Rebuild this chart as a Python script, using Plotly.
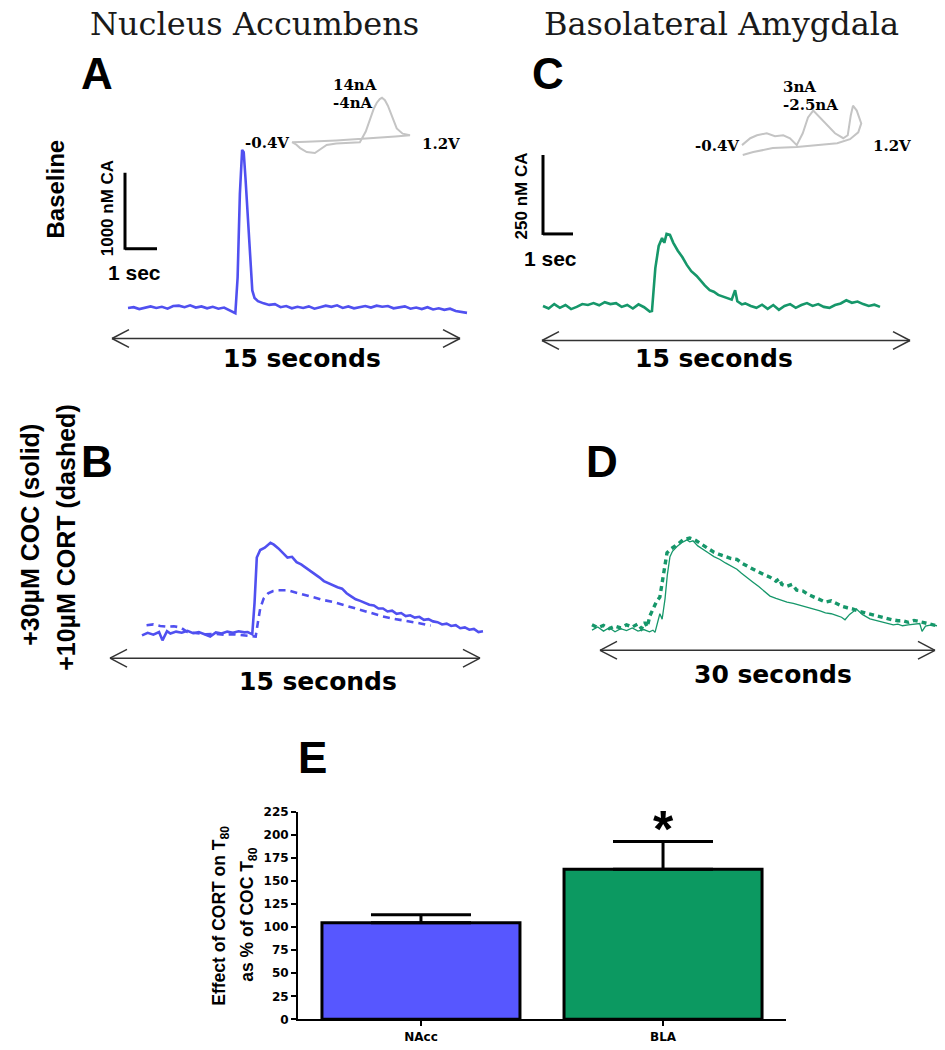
import plotly.graph_objects as go

W, H = 945, 1050

# ---------------- data ----------------
# Panel A: NAcc baseline release (time s, catecholamine nM)
nacc_base = [(0.0, 0), (0.25, 10), (0.5, -15), (0.75, 5), (1.0, 20), (1.25, 0), (1.5, 15), (1.75, -10),
             (2.0, 25), (2.25, 30), (2.5, 10), (2.75, 35), (3.0, 5), (3.25, 20), (3.5, -5), (3.75, 15),
             (4.0, -10), (4.25, 5), (4.5, -30), (4.75, -70), (4.85, 400), (4.95, 1500), (5.05, 2080),
             (5.12, 2050), (5.2, 1700), (5.3, 1150), (5.4, 600), (5.5, 230), (5.6, 130), (5.75, 90),
             (6.0, 60), (6.25, 40), (6.5, 50), (6.75, 10), (7.0, 25), (7.25, -5), (7.5, 15), (7.75, 0),
             (8.0, 20), (8.25, -10), (8.5, 10), (8.75, 30), (9.0, 15), (9.25, 35), (9.5, 0), (9.75, 20),
             (10.0, -5), (10.25, 10), (10.5, 25), (10.75, 5), (11.0, 30), (11.25, 15), (11.5, 25),
             (11.75, -5), (12.0, 10), (12.25, 20), (12.5, -10), (12.75, 5), (13.0, -15), (13.25, 10),
             (13.5, -20), (13.75, -5), (14.0, -25), (14.25, -10), (14.5, -40), (14.75, -55), (15.0, -65)]

# Panel C: BLA baseline release
bla_base = [(0.0, 0), (0.25, -8), (0.5, 6), (0.75, -6), (1.0, 3), (1.25, -10), (1.5, -3), (1.75, 6),
            (2.0, 3), (2.25, 9), (2.5, 2), (2.75, 12), (3.0, 6), (3.25, 9), (3.5, -3), (3.75, 3),
            (4.0, -8), (4.25, 5), (4.5, -4), (4.75, -18), (4.85, -16), (5.0, 120), (5.15, 190),
            (5.3, 215), (5.4, 200), (5.5, 228), (5.65, 225), (5.8, 200), (6.0, 175), (6.2, 155),
            (6.4, 130), (6.6, 110), (6.84, 95), (7.0, 80), (7.2, 65), (7.42, 50), (7.6, 45), (7.8, 35),
            (8.0, 30), (8.2, 25), (8.4, 20), (8.55, 50), (8.65, 15), (8.85, 5), (9.0, 8), (9.25, 0),
            (9.5, -6), (9.75, 4), (10.0, -9), (10.25, 3), (10.5, -12), (10.75, 0), (11.0, 6),
            (11.25, -6), (11.5, 3), (11.75, 9), (12.0, 0), (12.25, 6), (12.5, -3), (12.75, -6),
            (13.0, 3), (13.25, 8), (13.5, 18), (13.75, 10), (14.0, 14), (14.25, 6), (14.5, 0),
            (14.75, 4), (15.0, -3)]

# Panel B: NAcc +30uM cocaine (solid) and +10uM CORT (dashed)
nacc_coc = [(0.0, -25), (0.25, 10), (0.5, -15), (0.75, 20), (0.9, -90), (1.1, 30), (1.25, 0), (1.5, 25),
            (1.75, 10), (2.0, 35), (2.25, 5), (2.5, 20), (2.75, -10), (3.0, -40), (3.25, 15), (3.5, 0),
            (3.75, 25), (4.0, 10), (4.25, 30), (4.5, 15), (4.65, 20), (4.85, -10), (4.95, 400),
            (5.05, 1000), (5.2, 1100), (5.4, 1130), (5.65, 1195), (5.8, 1170), (6.0, 1120), (6.2, 1060),
            (6.4, 1000), (6.6, 1010), (6.8, 940), (7.0, 910), (7.2, 870), (7.4, 820), (7.6, 790),
            (7.8, 740), (8.0, 690), (8.2, 660), (8.4, 640), (8.6, 610), (8.8, 590), (9.0, 530),
            (9.2, 490), (9.4, 450), (9.6, 430), (9.8, 400), (10.0, 380), (10.2, 370), (10.4, 330),
            (10.6, 330), (10.8, 290), (11.0, 300), (11.2, 260), (11.4, 270), (11.6, 230), (11.8, 240),
            (12.0, 210), (12.2, 220), (12.4, 180), (12.6, 190), (12.8, 160), (13.0, 150), (13.2, 120),
            (13.4, 130), (13.6, 100), (13.8, 110), (14.0, 70), (14.2, 80), (14.4, 50), (14.6, 60),
            (14.8, 20), (15.0, 30)]
nacc_cort = [(0.2, 110), (0.5, 120), (0.8, 100), (1.1, 90), (1.4, 95), (1.7, 80), (2.0, 20), (2.4, 0),
             (2.8, -10), (3.2, -5), (3.6, -15), (4.0, -10), (4.4, -20), (4.8, -30), (5.0, -40),
             (5.1, 150), (5.2, 330), (5.35, 460), (5.55, 530), (5.77, 560), (6.0, 570), (6.39, 570),
             (6.7, 545), (6.96, 520), (7.3, 490), (7.7, 455), (8.0, 440), (8.41, 415), (8.8, 380),
             (9.3, 340), (9.7, 300), (10.18, 260), (10.6, 225), (11.06, 195), (11.5, 175),
             (11.94, 155), (12.3, 130), (12.7, 105)]

# Panel D: BLA +30uM cocaine (solid) and +10uM CORT (dashed), 30 s window
bla_coc = [(0.0, -5), (0.5, 5), (1.0, -8), (1.5, 3), (2.0, -10), (2.5, 0), (3.0, -6), (3.5, 2),
           (4.0, -8), (4.5, -3), (5.0, -10), (5.3, -5), (5.48, -12), (5.7, 20), (5.9, 47), (6.1, 30),
           (6.35, 94), (6.55, 170), (6.78, 228), (7.0, 245), (7.39, 260), (7.8, 272), (8.26, 281),
           (8.5, 275), (8.78, 278), (9.2, 262), (9.65, 250), (10.1, 240), (10.6, 228), (11.13, 219),
           (11.6, 208), (12.1, 197), (12.6, 188), (13.0, 175), (13.5, 162), (14.0, 147), (14.5, 133),
           (15.0, 118), (15.48, 103), (16.0, 96), (16.5, 90), (16.96, 84), (17.5, 80), (18.0, 75),
           (18.35, 72), (19.0, 65), (19.5, 60), (19.83, 56), (20.3, 50), (20.8, 47), (21.3, 41),
           (21.7, 36), (22.0, 28), (22.4, 45), (23.0, 62), (23.5, 45), (24.17, 31), (24.8, 25),
           (25.3, 20), (25.65, 16), (26.2, 12), (26.6, 14), (27.0, 9), (27.5, 12), (28.0, 15),
           (28.5, 16), (28.7, -9), (29.0, 8), (29.5, 12), (30.0, 9)]
bla_cort = [(0.0, 12), (0.5, 3), (1.0, 10), (1.5, 0), (2.0, 8), (2.5, 2), (3.0, 12), (3.5, 5),
            (4.0, 15), (4.3, 0), (4.6, 20), (4.8, 5), (5.04, 41), (5.3, 60), (5.6, 85), (5.9, 100),
            (6.2, 170), (6.52, 240), (6.85, 252), (7.2, 260), (7.55, 270), (7.9, 281), (8.2, 285),
            (8.5, 287), (8.9, 282), (9.3, 272), (9.65, 265), (10.1, 252), (10.6, 242), (11.13, 234),
            (11.6, 228), (12.1, 222), (12.6, 219), (13.0, 208), (13.5, 198), (14.0, 188), (14.5, 180),
            (15.0, 170), (15.48, 163), (16.0, 150), (16.3, 158), (16.5, 140), (16.96, 134),
            (17.4, 140), (17.8, 122), (18.35, 119), (18.8, 108), (19.3, 100), (19.83, 94), (20.3, 84),
            (20.8, 88), (21.3, 78), (21.8, 70), (22.2, 66), (22.7, 62), (23.2, 55), (23.7, 50),
            (24.17, 47), (24.7, 40), (25.2, 35), (25.65, 31), (26.1, 28), (26.6, 25), (27.0, 25),
            (27.5, 20), (28.0, 26), (28.5, 22), (29.0, 18), (29.5, 14), (30.0, 9)]

# Cyclic voltammogram insets (potential V, current nA)
cv_nacc = [(-0.4, -0.45), (-0.34, -1.3), (-0.29, -2.4), (-0.2, -3.7), (-0.09, -4.0), (0.01, -2.4),
           (0.07, -1.4), (0.2, -0.9), (0.35, -0.6), (0.52, -0.5), (0.6, 3.0), (0.66, 7.3),
           (0.71, 10.5), (0.75, 12.4), (0.79, 13.6), (0.82, 14.0), (0.86, 13.2), (0.9, 11.4),
           (0.96, 7.5), (1.02, 4.0), (1.1, 2.3), (1.2, 1.8), (1.0, 1.4), (0.8, 1.0), (0.6, 0.7),
           (0.4, 0.4), (0.2, 0.1), (0.0, -0.2), (-0.2, -0.3), (-0.4, -0.45)]
cv_bla = [(-0.4, -1.0), (-0.29, -0.3), (-0.2, 0.0), (-0.07, 0.2), (0.04, -0.1), (0.15, 0.0),
          (0.24, -0.3), (0.33, -1.0), (0.41, 0.2), (0.48, 1.8), (0.55, 2.5), (0.64, 1.8), (0.73, 1.0),
          (0.84, 0.2), (0.95, -0.3), (1.01, 0.0), (1.05, 2.0), (1.08, 3.0), (1.13, 2.5), (1.19, 1.2),
          (1.15, 0.3), (1.04, -0.4), (0.87, -0.8), (0.55, -1.0), (0.33, -1.2), (0.01, -1.3),
          (-0.25, -1.7), (-0.39, -2.0)]

# Panel E: effect of CORT on T80 (% of cocaine T80)
regions = ["NAcc", "BLA"]
t80_mean = [105, 163]
t80_sem = [8.6, 30]
e_ticks = [0, 25, 50, 75, 100, 125, 150, 175, 200, 225]

BLUE_LINE = "#5050f0"
GREEN_LINE = "#16976a"
BLUE_BAR = "#5757ff"
GREEN_BAR = "#0c9961"
GRAY_CV = "#c4c4c4"


# ---------------- layout helpers ----------------
def px_x(p):
    return p / W


def px_y(p):
    return 1 - p / H


def lin_range(p0, v0, p1, v1, b0, b1):
    s = (v1 - v0) / (p1 - p0)
    return [v0 + (b0 - p0) * s, v0 + (b1 - p0) * s]


fig = go.Figure()
layout_axes = {}


def add_panel(idx, xmap, ymap, xbox, ybox):
    """xmap=(px0,v0,px1,v1); ymap=(py0,v0,py1,v1); xbox=(left,right) px; ybox=(bottom,top) px"""
    xa = "xaxis%d" % idx
    ya = "yaxis%d" % idx
    layout_axes[xa] = dict(domain=[px_x(xbox[0]), px_x(xbox[1])],
                           range=lin_range(xmap[0], xmap[1], xmap[2], xmap[3], xbox[0], xbox[1]),
                           visible=False, anchor="y%d" % idx, fixedrange=True)
    layout_axes[ya] = dict(domain=[px_y(ybox[0]), px_y(ybox[1])],
                           range=lin_range(ymap[0], ymap[1], ymap[2], ymap[3], ybox[0], ybox[1]),
                           visible=False, anchor="x%d" % idx, fixedrange=True)
    return "x%d" % idx, "y%d" % idx


def line_trace(pts, ax, color, width, dash="solid"):
    t, v = zip(*pts)
    fig.add_trace(go.Scatter(x=list(t), y=list(v), mode="lines", xaxis=ax[0], yaxis=ax[1],
                             line=dict(color=color, width=width, dash=dash),
                             hoverinfo="skip", showlegend=False))


# Panel A (15 s across px 128..467, 0 nM at py 305, 0.077 px/nM)
axA = add_panel(2, (128, 0, 467, 15), (305, 0, 305 - 0.077 * 1000, 1000), (105, 480), (325, 125))
# Panel C
axC = add_panel(3, (543, 0, 880, 15), (303, 0, 303 - 0.32 * 100, 100), (520, 905), (325, 200))
# Panel B
axB = add_panel(4, (142, 0, 483, 15), (635, 0, 635 - 0.077 * 1000, 1000), (120, 500), (652, 520))
# Panel D
axD = add_panel(5, (592, 0, 937, 30), (630, 0, 630 - 0.32 * 100, 100), (575, 945), (648, 520))
# Insets
axIA = add_panel(6, (292, -0.4, 410, 1.2), (92, 14, 148, -4), (280, 425), (160, 80))
axIC = add_panel(7, (742, -0.4, 862, 1.2), (100, 3, 155, -2.5), (730, 875), (165, 90))

line_trace(cv_nacc, axIA, GRAY_CV, 2)
line_trace(cv_bla, axIC, GRAY_CV, 2)
line_trace(nacc_base, axA, BLUE_LINE, 2.6)
line_trace(bla_base, axC, GREEN_LINE, 2.6)
line_trace(nacc_cort, axB, BLUE_LINE, 2.6, dash="7px,5px")
line_trace(nacc_coc, axB, BLUE_LINE, 2.6)
line_trace(bla_coc, axD, GREEN_LINE, 1.3)
line_trace(bla_cort, axD, GREEN_LINE, 3.4, dash="5px,4px")

# Panel E bar chart
fig.add_trace(go.Bar(x=regions, y=t80_mean, width=0.818,
                     marker=dict(color=[BLUE_BAR, GREEN_BAR], line=dict(color="black", width=3)),
                     error_y=dict(type="data", array=t80_sem, arrayminus=[0, 0], symmetric=False,
                                  color="black", thickness=3, width=50),
                     hoverinfo="skip", showlegend=False, xaxis="x", yaxis="y"))

layout_axes["xaxis"] = dict(domain=[px_x(298), px_x(786)], range=[-0.508, 1.508], anchor="y",
                            showline=True, linecolor="black", linewidth=2, ticks="outside",
                            ticklen=5, tickwidth=2, tickcolor="black", showgrid=False, zeroline=False,
                            tickfont=dict(family="DejaVu Sans", size=12, color="black", weight="bold"),
                            fixedrange=True)
layout_axes["yaxis"] = dict(domain=[px_y(1026), px_y(816)], range=[0, 225], anchor="x",
                            tickvals=e_ticks, showline=True, linecolor="black", linewidth=2,
                            ticks="outside", ticklen=5, tickwidth=2, tickcolor="black",
                            showgrid=False, zeroline=False,
                            tickfont=dict(family="DejaVu Sans", size=12, color="black", weight="bold"),
                            fixedrange=True)

# ---------------- decorations ----------------
shapes = []


def seg(x0, y0, x1, y1, w=3, color="black"):
    shapes.append(dict(type="line", xref="paper", yref="paper", x0=px_x(x0), y0=px_y(y0),
                       x1=px_x(x1), y1=px_y(y1), line=dict(color=color, width=w)))


def double_arrow(x0, x1, y):
    c = "#333333"
    seg(x0, y, x1, y, 1.5, c)
    seg(x0, y, x0 + 17, y - 9, 1.5, c)
    seg(x0, y, x0 + 17, y + 9, 1.5, c)
    seg(x1, y, x1 - 17, y - 9, 1.5, c)
    seg(x1, y, x1 - 17, y + 9, 1.5, c)


# scale bars
seg(125, 168, 125, 246)
seg(125, 245, 157, 245)
seg(543, 150, 543, 231)
seg(543, 230, 573, 230)

double_arrow(112, 460, 336)
double_arrow(542, 910, 338)
double_arrow(110, 480, 660)
double_arrow(600, 935, 652)

annotations = []


def txt(s, x, y, size, family="Liberation Sans", bold=True, angle=0, xanchor="center", color="black"):
    annotations.append(dict(text=s, x=px_x(x), y=px_y(y), xref="paper", yref="paper",
                            showarrow=False, textangle=angle, xanchor=xanchor, yanchor="middle",
                            font=dict(family=family, size=size, color=color,
                                      weight="bold" if bold else "normal")))


txt("Nucleus Accumbens", 254, 17, 32, family="DejaVu Serif", bold=False, color="#1a1a1a")
txt("Basolateral Amygdala", 721, 17, 32, family="DejaVu Serif", bold=False, color="#1a1a1a")

for letter, x, y in [("A", 97, 67), ("C", 548, 67), ("B", 97, 461), ("D", 602, 461), ("E", 312, 761)]:
    txt(letter, x, y, 44)

txt("Baseline", 56, 185, 24, angle=-90)
txt("+30µM COC (solid)", 30, 535, 25, angle=-90)
txt("+10µM CORT (dashed)", 66, 538, 25, angle=-90)

txt("1000 nM CA", 107, 204, 17, angle=-90)
txt("1 sec", 134, 269, 21)
txt("250 nM CA", 521, 192, 17, angle=-90)
txt("1 sec", 550, 255, 21)

txt("15 seconds", 302, 356, 25, family="DejaVu Sans")
txt("15 seconds", 714, 356, 25, family="DejaVu Sans")
txt("15 seconds", 318, 684, 25, family="DejaVu Sans")
txt("30 seconds", 773, 677, 25, family="DejaVu Sans")

# CV inset labels
txt("14nA", 331, 79, 15, family="DejaVu Serif", xanchor="left")
txt("-4nA", 331, 97, 15, family="DejaVu Serif", xanchor="left")
txt("-0.4V", 291, 138, 15, family="DejaVu Serif", xanchor="right")
txt("1.2V", 420, 139, 15, family="DejaVu Serif", xanchor="left")
txt("3nA", 781, 81, 15, family="DejaVu Serif", xanchor="left")
txt("-2.5nA", 781, 99, 15, family="DejaVu Serif", xanchor="left")
txt("-0.4V", 741, 141, 15, family="DejaVu Serif", xanchor="right")
txt("1.2V", 871, 141, 15, family="DejaVu Serif", xanchor="left")

# bar chart labels
txt("Effect of CORT on T<sub>80</sub>", 221, 921, 17.5, angle=-90)
txt("as % of COC T<sub>80</sub>", 249, 920, 17.5, angle=-90)
txt("*", 663, 833, 52)

fig.update_layout(width=W, height=H, margin=dict(l=0, r=0, t=0, b=0),
                  paper_bgcolor="white", plot_bgcolor="rgba(0,0,0,0)",
                  showlegend=False, shapes=shapes, annotations=annotations, **layout_axes)

page_fix = ("document.body.style.margin='0px';"
            "document.body.style.overflow='hidden';"
            "var gd=document.getElementById('{plot_id}');"
            "gd.style.position='absolute';gd.style.left='0px';gd.style.top='0px';")
fig.write_html("out.html", config={"displayModeBar": False, "staticPlot": True},
               post_script=page_fix)
